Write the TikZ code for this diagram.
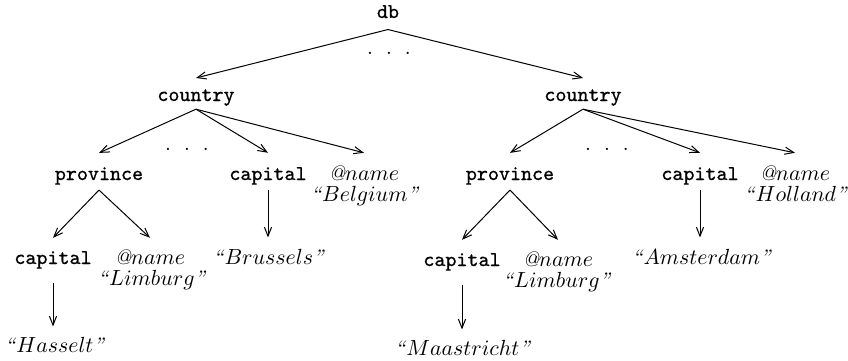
\documentclass[tikz,border=0pt]{standalone}
\usepackage{fontspec}
\newfontfamily\ttbold[FakeBold=0.8]{Latin Modern Mono}
\usetikzlibrary{arrows.meta}
\begin{document}
\begin{tikzpicture}[x=0.5pt,y=-0.5pt,
  every node/.style={inner sep=0pt, anchor=base},
  tt/.style={font=\fontsize{10.5}{12}\ttbold},
  it/.style={font=\fontsize{10.5}{12}\selectfont},
  arr/.style={-{Straight Barb[length=4.5pt,width=3.6pt]}, line width=0.5pt}]
\path[use as bounding box] (0,0) rectangle (848,360);
\newcommand{\nm}{{\itshape @}$name$}
\newcommand{\qt}[1]{\textit{``}$#1$\textit{''}}
\newcommand{\dd}{.\hspace{6.5pt}.\hspace{6.5pt}.}
% level 0
\node[tt] (db) at (388,18) {db};
\node[it] (dots0) at (389,54) {\dd};
% level 1
\node[tt] (cL) at (196,101) {country};
\node[tt] (cR) at (583,101) {country};
% level 2 left
\node[tt] (pL) at (99,180) {province};
\node[it] (dotsL) at (187,150) {\dd};
\node[tt] (capL) at (268,180) {capital};
\node[it] (nameL) at (364,180) {\nm};
\node[it] (belg) at (365,201) {\qt{Belgium}};
% level 2 right
\node[tt] (pR) at (510,180) {province};
\node[it] (dotsR) at (607,150) {\dd};
\node[tt] (capR) at (700,180) {capital};
\node[it] (nameR) at (795,180) {\nm};
\node[it] (holl) at (796,201) {\qt{Holland}};
% level 3 left
\node[tt] (capLL) at (53,264) {capital};
\node[it] (nameLL) at (150,264) {\nm};
\node[it] (limL) at (152,285) {\qt{Limburg}};
\node[it] (bru) at (269,264) {\qt{Brussels}};
\node[it] (has) at (55,352) {\qt{Hasselt}};
% level 3 right
\node[tt] (capRR) at (462,266) {capital};
\node[it] (nameRR) at (558,266) {\nm};
\node[it] (limR) at (557,287) {\qt{Limburg}};
\node[it] (ams) at (702,264) {\qt{Amsterdam}};
\node[it] (maa) at (463,355) {\qt{Maastricht}};
% edges
\draw[arr] ([yshift=-5.5pt]db.south) -- ([yshift=5.5pt]cL.north);
\draw[arr] ([yshift=-5.5pt]db.south) -- ([yshift=5.5pt]cR.north);
\foreach \c/\p/\k/\n in {cL/pL/capL/nameL, cR/pR/capR/nameR} {
  \draw[arr] ([yshift=-1.5pt]\c.south) -- ([yshift=7pt]\p.north);
  \draw[arr] ([yshift=-1.5pt]\c.south) -- ([yshift=7pt]\k.north);
  \draw[arr] ([yshift=-1.5pt]\c.south) -- ([yshift=6pt]\n.north);
}
\foreach \p/\k/\n in {pL/capLL/nameLL, pR/capRR/nameRR} {
  \draw[arr] ([yshift=-2.5pt]\p.south) -- ([yshift=6.5pt]\k.north);
  \draw[arr] ([yshift=-2.5pt]\p.south) -- ([yshift=5.5pt]\n.north);
}
\draw[arr] ([yshift=-2.5pt]capL.south) -- ([yshift=5.5pt]capL.south |- bru.north);
\draw[arr] ([yshift=-2.5pt]capR.south) -- ([yshift=5.5pt]capR.south |- ams.north);
\draw[arr] ([yshift=-7pt]capLL.south) -- ([yshift=5pt]capLL.south |- has.north);
\draw[arr] ([yshift=-7pt]capRR.south) -- ([yshift=5pt]capRR.south |- maa.north);
\end{tikzpicture}
\end{document}
